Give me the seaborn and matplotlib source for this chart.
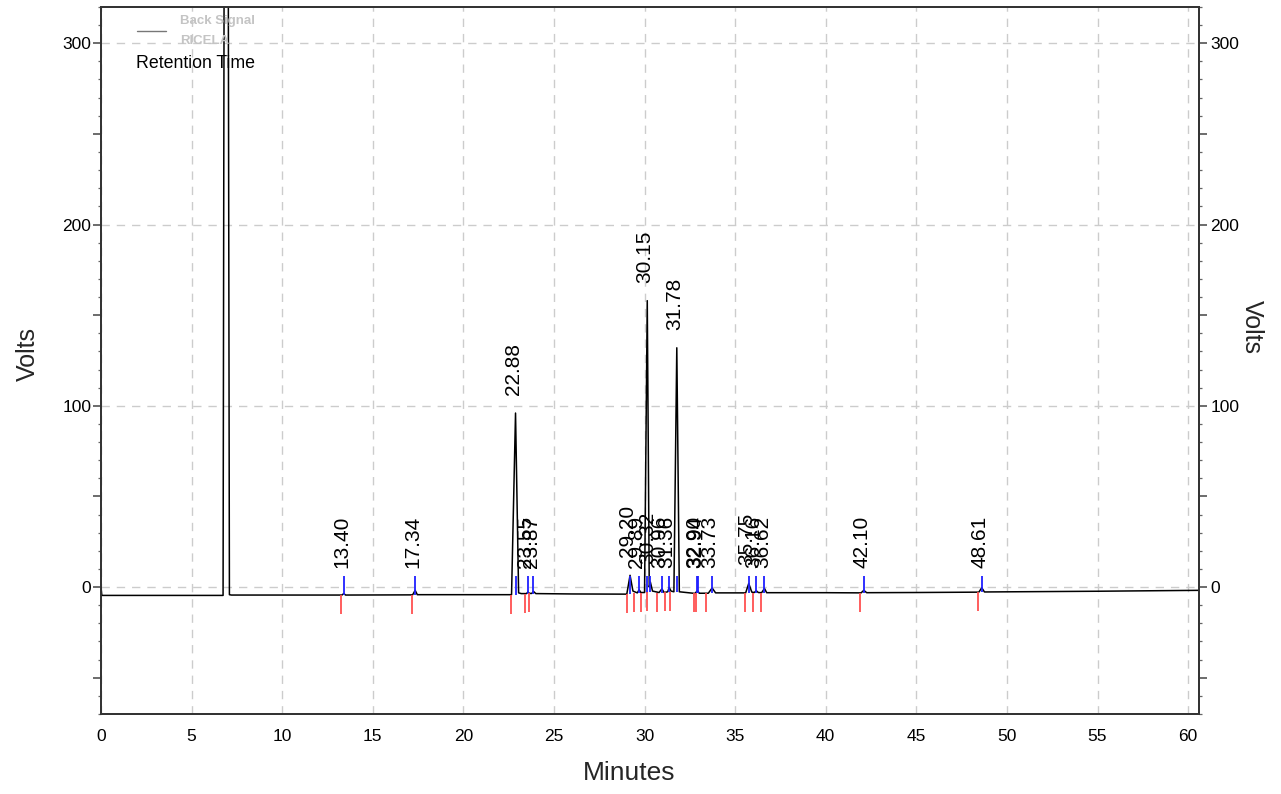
import matplotlib
matplotlib.use("Agg")
import matplotlib.pyplot as plt
import numpy as np
import pandas as pd
import seaborn as sns
from matplotlib.ticker import MultipleLocator, FuncFormatter

# ---------------- data ----------------
trace_t = [0.0, 0.05, 3.0, 6.74, 6.84, 6.98, 7.09, 7.2, 10.0, 13.30, 13.40, 13.50,
           17.20, 17.34, 17.46, 20.0, 22.66, 22.88, 23.05, 23.20, 23.48, 23.56, 23.66,
           23.78, 23.87, 24.00, 26.0, 29.02, 29.20, 29.36, 29.60, 29.70, 29.80, 30.00,
           30.15, 30.26, 30.32, 30.44, 30.80, 30.96, 31.08, 31.28, 31.36, 31.46, 31.62,
           31.78, 31.92, 32.78, 32.92, 33.02, 33.52, 33.73, 33.92, 35.58, 35.75, 35.92,
           36.06, 36.16, 36.28, 36.46, 36.62, 36.74, 40.0, 41.95, 42.10, 42.26, 45.0,
           48.45, 48.61, 48.76, 55.0, 60.6]
trace_v = [0.0, -4.6, -4.6, -4.6, 600.0, 600.0, -4.2, -4.4, -4.4, -4.4, -3.6, -4.4,
           -4.3, -1.8, -4.2, -4.2, -4.2, 96.0, -3.2, -3.6, -3.6, -2.8, -3.5,
           -3.5, -2.4, -3.6, -3.8, -3.9, 6.5, -2.2, -3.2, -1.5, -3.0, -3.0,
           158.0, 0.0, 2.8, -2.2, -3.0, -1.0, -3.0, -2.6, -0.2, -2.2, -2.6,
           132.0, -2.6, -3.5, -2.0, -3.4, -3.4, -0.5, -3.2, -3.2, 2.0, -2.8,
           -3.0, -2.0, -3.0, -3.1, -0.8, -3.1, -3.1, -3.2, -1.8, -3.1, -3.0,
           -2.8, -0.4, -2.7, -2.3, -1.8]

peak_rt = [13.40, 17.34, 22.88, 23.55, 23.87, 29.20, 29.69, 30.15, 30.32, 30.96,
           31.36, 31.78, 32.90, 32.94, 33.73, 35.75, 36.16, 36.62, 42.10, 48.61]
peak_labels = ["13.40", "17.34", "22.88", "23.55", "23.87", "29.20", "29.89", "30.15",
               "30.32", "30.96", "31.36", "31.78", "32.90", "32.94", "33.73", "35.75",
               "36.16", "36.62", "42.10", "48.61"]
peak_apex = [-3.6, -1.8, 96.0, -2.8, -2.4, 6.5, -1.5, 158.0, 2.8, -1.0,
             -0.2, 132.0, -2.0, -2.0, -0.5, 2.0, -2.0, -0.8, -1.8, -0.4]
peak_start = [13.27, 17.19, 22.62, 23.40, 23.62, 29.01, 29.42, 29.79, 30.16, 30.67,
              31.14, 31.41, 32.74, 32.83, 33.38, 35.56, 35.96, 36.44, 41.91, 48.41]
baseline_at_rt = [-4.4, -4.3, -4.2, -3.6, -3.6, -3.9, -3.2, -3.0, -2.6, -3.0,
                  -2.6, -2.6, -3.5, -3.5, -3.4, -3.2, -3.0, -3.1, -3.2, -2.8]
baseline_at_start = [-4.4, -4.3, -4.2, -3.6, -3.5, -3.9, -3.2, -3.0, -2.6, -3.0,
                     -2.6, -2.6, -3.5, -3.5, -3.4, -3.2, -3.0, -3.1, -3.2, -2.8]

x_label = "Minutes"
y_label = "Volts"
legend_lines = ["Back Signal", "RICELA"]
legend_title = "Retention Time"

# ---------------- drawing ----------------
sns.set_style("white")
plt.rcParams["font.family"] = ["Liberation Sans", "DejaVu Sans"]

fig = plt.figure(figsize=(12.81, 7.94), dpi=100)
ax = fig.add_axes([0.0788, 0.1008, 0.8572, 0.8904])

df = pd.DataFrame({"t": trace_t, "v": trace_v})
sns.lineplot(data=df, x="t", y="v", color="black", lw=1.1, ax=ax,
             estimator=None, sort=False, zorder=3)

# blue retention-time markers and red peak-start markers
for rt, b in zip(peak_rt, baseline_at_rt):
    ax.vlines(rt, b, 6.0, color="#2020ff", lw=1.3, zorder=4)
for st, b in zip(peak_start, baseline_at_start):
    ax.vlines(st, b - 10.5, b, color="#ff5050", lw=1.3, zorder=4)

for rt, lab, apex in zip(peak_rt, peak_labels, peak_apex):
    y = max(apex + 10.0, 10.5)
    ax.text(rt - 0.12, y, lab, rotation=90, ha="center", va="bottom",
            fontsize=15, color="black", zorder=5)

ax.set_xlim(0, 60.6)
ax.set_ylim(-70, 320)
ax.xaxis.set_major_locator(MultipleLocator(5))
ax.xaxis.set_minor_locator(MultipleLocator(1))
ax.yaxis.set_major_locator(MultipleLocator(50))
ax.yaxis.set_minor_locator(MultipleLocator(10))
yfmt = FuncFormatter(lambda v, p: f"{int(round(v))}" if abs(v % 100) < 1e-6 else "")
ax.yaxis.set_major_formatter(yfmt)

ax.grid(True, which="major", ls=(0, (6, 5)), color="#cccccc", lw=1.0)
for gl, loc in zip(ax.yaxis.get_gridlines(), ax.yaxis.get_majorticklocs()):
    if abs(loc % 100) > 1e-6:
        gl.set_visible(False)
ax.set_axisbelow(True)

for s in ax.spines.values():
    s.set_color("#333333")
    s.set_linewidth(1.3)

ax.tick_params(axis="both", which="major", direction="out", length=5.5, width=1.1,
               color="#444444", labelsize=12.5, labelcolor="black")
ax.tick_params(axis="y", which="major", pad=1.5)
ax.tick_params(axis="x", which="major", pad=5.5)
ax.tick_params(axis="both", which="minor", direction="out", length=2.2, width=0.9,
               color="#666666")

ax.set_xlabel(x_label, fontsize=19)
ax.xaxis.set_label_coords(0.481, -0.066)
ax.set_ylabel(y_label, fontsize=18)
ax.yaxis.set_label_coords(-0.0556, 0.509)

ax2 = ax.twinx()
ax2.set_ylim(ax.get_ylim())
ax2.yaxis.set_major_locator(MultipleLocator(50))
ax2.yaxis.set_minor_locator(MultipleLocator(10))
ax2.yaxis.set_major_formatter(yfmt)
ax2.tick_params(axis="y", which="major", direction="out", length=5.5, width=1.1,
                color="#444444", labelsize=12.5, pad=2.5, labelcolor="black")
ax2.tick_params(axis="y", which="minor", direction="out", length=2.2, width=0.9,
                color="#666666")
ax2.set_ylabel(y_label, fontsize=18, rotation=270)
ax2.yaxis.set_label_coords(1.059, 0.547)
for s in ax2.spines.values():
    s.set_color("#333333")
    s.set_linewidth(1.3)
ax2.grid(False)

# legend-like annotation
ax.plot([2.0, 3.6], [307, 307], color="#777777", lw=1.0, zorder=6)
ax.text(4.35, 312.5, legend_lines[0], fontsize=9.5, fontweight="bold",
        color="#c4c4c4", va="center", ha="left", zorder=6)
ax.text(4.35, 301, legend_lines[1], fontsize=9.5, fontweight="bold",
        color="#c4c4c4", va="center", ha="left", zorder=6)
ax.text(1.95, 289, legend_title, fontsize=12.8, color="black",
        va="center", ha="left", zorder=6)

fig.savefig("out.png", dpi=100)
